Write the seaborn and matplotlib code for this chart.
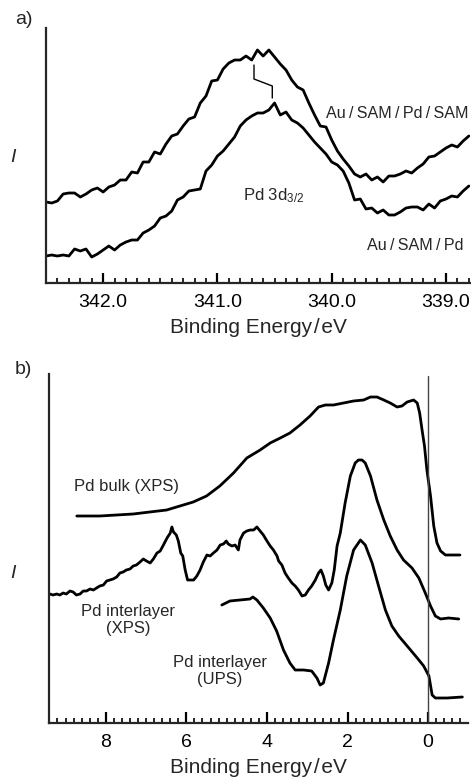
import numpy as np
import pandas as pd
import matplotlib
matplotlib.use("Agg")
import matplotlib.pyplot as plt
from matplotlib.ticker import MultipleLocator
import seaborn as sns

# ---- panel a: Pd 3d3/2 region, energies every 0.05 eV from 342.50 down to 338.80
energy_a = np.round(np.arange(342.50, 338.78, -0.05), 2)

pd_sam = [81, 80, 82, 89, 90, 90, 86, 89, 93, 95, 91, 96, 98, 103, 103, 111, 110, 121, 121,
          131, 129, 139, 147, 149, 157, 164, 166, 180, 187, 202, 203, 214, 220, 223, 223, 227,
          223, 233, 227, 233, 226, 219, 213, 203, 196, 193, 180, 168, 157, 156, 143, 132, 124,
          117, 109, 106, 109, 103, 106, 101, 107, 107, 109, 112, 110, 115, 119, 126, 127, 131,
          135, 138, 136, 142, 147]

pd_only = [27, 28, 27, 28, 27, 34, 32, 34, 26, 29, 33, 37, 33, 38, 41, 43, 43, 50, 53, 57,
           65, 67, 72, 83, 86, 92, 93, 94, 112, 118, 127, 132, 139, 146, 157, 163, 167, 170,
           170, 173, 180, 168, 171, 163, 160, 155, 148, 141, 135, 129, 121, 118, 112, 100, 83,
           84, 74, 75, 70, 73, 68, 68, 71, 75, 76, 76, 73, 79, 75, 82, 84, 87, 86, 92, 97]

shift_e = [340.68, 340.68, 340.52, 340.52]
shift_i = [218, 204, 197, 185]

# ---- panel b: valence band region
bulk_e = [8.72, 8.15, 7.32, 6.91, 6.49, 6.16, 5.83, 5.50, 5.17, 4.83, 4.50, 4.17, 3.92,
          3.67, 3.43, 3.18, 2.93, 2.72, 2.55, 2.35, 2.10, 1.85, 1.60, 1.43, 1.27, 1.10, 0.94,
          0.77, 0.65, 0.52, 0.36, 0.27, 0.21, 0.15, 0.09, 0.03, -0.06, -0.14, -0.22, -0.31,
          -0.43, -0.79]
bulk_i = [207, 207, 209, 211, 213, 217, 221, 227, 237, 250, 265, 273, 280, 285, 290, 298,
          307, 316, 318, 318, 320, 322, 323, 326, 326, 323, 320, 316, 317, 321, 323, 320, 310,
          293, 277, 253, 227, 197, 180, 172, 168, 168]

xps_e = [9.44, 9.39, 9.31, 9.22, 9.14, 9.06, 8.98, 8.89, 8.81, 8.73, 8.64, 8.56, 8.48, 8.39,
         8.31, 8.23, 8.15, 8.06, 7.98, 7.90, 7.82, 7.73, 7.65, 7.57, 7.49, 7.40, 7.32, 7.24,
         7.15, 7.07, 6.99, 6.90, 6.82, 6.73, 6.65, 6.57, 6.48, 6.40, 6.36, 6.32, 6.25, 6.20,
         6.14, 6.09, 6.03, 5.97, 5.91, 5.82, 5.74, 5.66, 5.58, 5.49, 5.41, 5.33, 5.24, 5.16,
         5.08, 5.01, 4.96, 4.87, 4.79, 4.71, 4.67, 4.58, 4.50, 4.42, 4.33, 4.25, 4.17, 4.09,
         4.00, 3.92, 3.84, 3.75, 3.71, 3.63, 3.55, 3.47, 3.38, 3.30, 3.22, 3.13, 3.05, 2.97,
         2.89, 2.80, 2.72, 2.66, 2.60, 2.54, 2.47, 2.39, 2.33, 2.26, 2.18, 2.06, 1.93, 1.81,
         1.73, 1.64, 1.56, 1.43, 1.27, 1.10, 0.94, 0.77, 0.61, 0.40, 0.23, 0.07, -0.06, -0.18,
         -0.31, -0.51, -0.76]
xps_i = [128, 129, 128, 129, 128, 130, 129, 132, 131, 128, 129, 132, 132, 134, 133, 135, 137,
         138, 142, 143, 144, 146, 150, 151, 153, 154, 157, 158, 161, 164, 162, 160, 164, 170,
         172, 178, 185, 190, 196, 191, 188, 182, 170, 167, 153, 143, 143, 143, 147, 153, 161,
         168, 167, 170, 173, 178, 179, 182, 179, 177, 178, 173, 183, 190, 192, 193, 193, 196,
         192, 188, 182, 177, 173, 167, 162, 158, 150, 145, 140, 137, 133, 127, 128, 133, 137,
         143, 150, 153, 147, 138, 133, 140, 153, 177, 190, 220, 247, 260, 263, 263, 260, 247,
         223, 203, 187, 173, 163, 155, 145, 130, 117, 107, 104, 105, 104]

ups_e = [5.12, 4.92, 4.67, 4.42, 4.35, 4.25, 4.09, 3.92, 3.76, 3.59, 3.43, 3.30, 3.09, 2.89,
         2.76, 2.68, 2.60, 2.47, 2.35, 2.18, 2.02, 1.85, 1.68, 1.56, 1.39, 1.23, 1.06, 0.90,
         0.73, 0.52, 0.27, 0.11, -0.02, -0.10, -0.18, -0.47, -0.85]
ups_i = [118, 122, 123, 124, 126, 123, 115, 105, 92, 73, 60, 53, 53, 52, 45, 38, 40, 60, 83,
         113, 147, 173, 183, 178, 160, 137, 113, 97, 87, 77, 65, 57, 47, 28, 25, 25, 26]

sns.set_style("ticks")
plt.rcParams['font.family'] = ['Liberation Sans', 'DejaVu Sans']
plt.rcParams['mathtext.fontset'] = 'custom'
plt.rcParams['mathtext.rm'] = 'Liberation Sans'
plt.rcParams['mathtext.it'] = 'Liberation Sans:italic'

fig = plt.figure(figsize=(4.71, 7.83), dpi=100)
W, H = 471.0, 783.0

line_kw = dict(color='black', linewidth=2.0, sort=False, estimator=None, legend=False)
sep = '\u200a/\u200a'      # tight slash for the axis title
lsep = '\u2009/\u2009'     # a bit more air in the sample labels


def style_axis(ax, major, minor, fmt):
    sns.despine(ax=ax)
    ax.spines['left'].set_linewidth(1.6)
    ax.spines['bottom'].set_linewidth(1.6)
    ax.set_yticks([])
    ax.xaxis.set_major_locator(MultipleLocator(major))
    ax.xaxis.set_minor_locator(MultipleLocator(minor))
    ax.xaxis.set_major_formatter(fmt)
    ax.tick_params(axis='x', which='major', direction='in', length=7, width=1.6,
                   labelsize=14, pad=8, colors='black')
    ax.tick_params(axis='x', which='minor', direction='in', length=3.5, width=1.4)
    ax.set_ylabel('')
    ax.set_xlabel('Binding Energy' + sep + 'eV', fontsize=15, labelpad=5)


# ---- panel a
ax1 = fig.add_axes([46 / W, 1 - 283 / H, 424 / W, 255 / H])
da = pd.DataFrame({'E': energy_a, 'top': pd_sam, 'bottom': pd_only})
sns.lineplot(data=da, x='E', y='top', ax=ax1, **line_kw)
sns.lineplot(data=da, x='E', y='bottom', ax=ax1, **line_kw)
ax1.plot(shift_e, shift_i, color='black', linewidth=1.0)
ax1.set_xlim(342.5, 338.79)
ax1.set_ylim(0, 255)
style_axis(ax1, 1.0, 0.1, '{x:.1f}')
ax1.text(339.43, 169, 'Au' + lsep + 'SAM' + lsep + 'Pd' + lsep + 'SAM', fontsize=11.6,
         ha='center', va='center')
ax1.text(340.51, 87, 'Pd 3d$_{3/2}$', fontsize=12, ha='center', va='center')
ax1.text(339.27, 37, 'Au' + lsep + 'SAM' + lsep + 'Pd', fontsize=11.6, ha='center', va='center')

# ---- panel b
ax2 = fig.add_axes([49 / W, 1 - 723 / H, 419 / W, 349 / H])
sns.lineplot(x=bulk_e, y=bulk_i, ax=ax2, **line_kw)
sns.lineplot(x=xps_e, y=xps_i, ax=ax2, **line_kw)
sns.lineplot(x=ups_e, y=ups_i, ax=ax2, **line_kw)
ax2.set_xlim(9.41, -0.99)
ax2.set_ylim(0, 349)
ax2.axvline(0, ymin=0, ymax=347 / 349, color='#444444', linewidth=1.0)
style_axis(ax2, 2, 0.2, '{x:.0f}')
ax2.tick_params(axis='x', which='major', length=8)
ax2.text(7.48, 236, 'Pd bulk (XPS)', fontsize=12, ha='center', va='center')
ax2.text(7.45, 103, 'Pd interlayer\n(XPS)', fontsize=12, ha='center', va='center',
         linespacing=1.15)
ax2.text(5.17, 52, 'Pd interlayer\n(UPS)', fontsize=12, ha='center', va='center',
         linespacing=1.15)

# panel letters and intensity labels
fig.text(24 / W, 1 - 19 / H, 'a)', fontsize=14, ha='center', va='center')
fig.text(23 / W, 1 - 370 / H, 'b)', fontsize=14, ha='center', va='center')
fig.text(13 / W, 1 - 157 / H, 'I', fontsize=14, style='italic', ha='center', va='center')
fig.text(13 / W, 1 - 573 / H, 'I', fontsize=14, style='italic', ha='center', va='center')

fig.savefig('out.png', dpi=100)
